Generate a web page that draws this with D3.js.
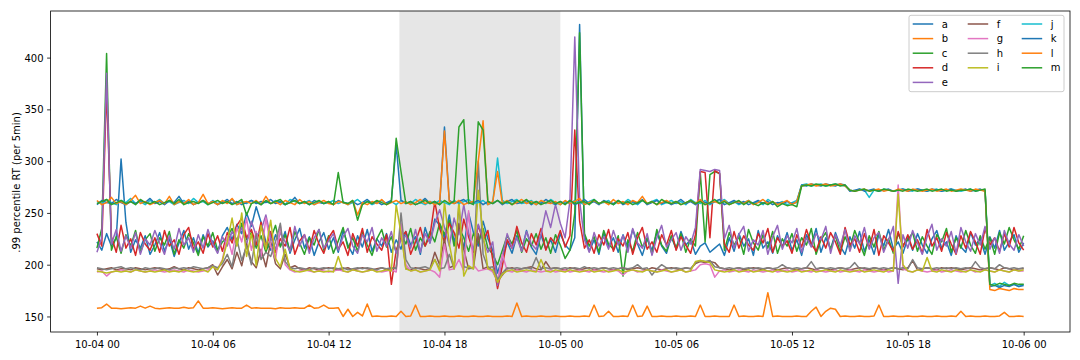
<!DOCTYPE html>
<html><head><meta charset="utf-8">
<script src="https://cdn.jsdelivr.net/npm/d3@7"></script>
<style>
html,body{margin:0;padding:0;background:#fff;}
svg{display:block;font-family:"DejaVu Sans",sans-serif;}
</style></head><body>
<svg id="chart" width="1080" height="360"></svg>
<script>
// ---- data (15-minute samples, 10-04 00:00 .. 10-06 00:00) ----
const startTime = Date.UTC(2023, 9, 4, 0, 0);
const stepMinutes = 15;
const shadeStart = Date.UTC(2023, 9, 4, 15, 40);
const shadeEnd = Date.UTC(2023, 9, 5, 0, 0);
const yTicks = [150, 200, 250, 300, 350, 400];
const seriesNames = ["a","b","c","d","e","f","g","h","i","j","k","l","m"];
const yLabel = ".99 percentile RT (per 5min)";

const a = [
222,214,230,218,226,302,241,212,224,216,228,210,
219,231,213,225,208,221,233,215,226,211,229,217,
223,212,228,236,224,239,230,250,237,256,241,222,
214,229,218,232,211,224,235,216,227,209,222,231,
215,226,212,233,219,210,228,217,234,213,225,218,
230,212,224,215,232,219,227,210,236,221,244,238,
226,248,222,239,215,250,231,218,242,225,214,192,
207,222,211,228,214,233,217,210,229,215,224,212,
230,219,214,226,432,228,213,224,210,231,217,226,
212,229,216,234,220,209,225,214,231,218,211,227,
215,232,219,224,210,218,221,212,216,220,209,226,
213,230,218,225,209,233,216,222,211,228,217,231,
214,224,209,229,219,235,212,226,215,231,218,210,
227,216,232,213,224,210,229,218,234,215,222,211,
226,214,230,219,211,225,233,216,222,209,228,217,
212,231,219,225,210,227,216,233,214,222,229,212,
221];
const b = [
158,158.5,162,158,158,157.5,158,158.5,158,160,158,160,
158,157.5,158,158.5,158,158,159,158,158.5,165,158,158,
158.5,158,157.5,158,158.5,158,158,161,158,158.5,158,158,
158,157.5,158.5,158,158,158.5,158,158,161,158,158.5,161,
158,158,158.5,150,157,150,154,150.5,162,150,150.5,150,
150,150.5,150,155,150,150.5,161,150,150,150.5,150,150,
150.5,150,150,150.5,150,150,150.5,150,150,150.5,150,150,
150,150.5,150,163,150,150.5,150,150,150.5,150,150,150.5,
150,150,150.5,150,150,150.5,150,161,150,150.5,155,150,
150,150.5,150,161,150,150.5,160,150,150,150.5,150,150,
150.5,150,150,150.5,150,161,150,150,150.5,150,150,150,
161,150,150.5,150,150,150.5,150,173,150,150.5,150,150,
150,150.5,150,150,155,159,150,155,158,157,150,150.5,
150,150,150.5,150,150,150.5,161,150,150,150.5,150,150,
150.5,150,150,150.5,150,150,150.5,150,150,150.5,150,155,
150,150.5,150,150,150.5,150,150,150.5,154,150,150,150.5,
150];
const c = [
216,235,404,214,227,211,229,218,233,212,224,230,
213,226,219,232,210,224,216,230,221,209,227,218,
231,214,222,227,235,219,240,224,231,216,228,212,
225,238,217,229,213,232,221,210,226,219,234,214,
228,211,223,236,216,226,213,231,219,209,225,234,
217,227,212,230,220,235,214,226,218,232,222,240,
229,243,218,236,226,213,230,221,235,216,210,200,
214,228,220,233,212,225,218,230,215,226,211,229,
219,206,214,250,424,230,218,227,212,233,220,215,
228,189,224,213,231,217,226,210,234,219,213,228,
216,230,212,225,218,289,222,287,290,288,214,231,
219,227,210,234,221,214,229,216,232,211,225,218,
230,213,226,219,235,210,224,231,215,228,212,227,
216,233,221,209,228,217,232,214,225,211,230,219,
224,231,213,227,218,210,229,222,235,212,226,216,
233,219,211,228,215,226,210,231,220,236,224,215,
228];
const d = [
230,218,370,227,212,238,216,225,209,231,220,214,
226,212,233,218,224,210,229,236,215,222,211,230,
217,228,213,231,221,238,245,226,234,219,241,216,
232,212,225,218,236,210,223,229,214,233,220,211,
226,233,215,222,209,230,218,235,212,227,220,214,
229,181,214,226,232,210,222,236,218,228,261,235,
222,240,231,216,244,227,212,238,223,233,205,177,
199,224,216,237,221,212,230,219,235,214,226,220,
233,217,228,330,242,216,224,211,229,219,234,213,
225,218,231,210,226,236,215,222,212,229,219,233,
214,227,219,211,229,290,289,226,291,288,220,212,
232,216,228,219,214,230,221,235,212,226,218,223,
211,229,217,234,220,213,227,216,231,222,210,236,
219,225,212,230,216,234,209,228,221,213,232,217,
229,215,224,211,234,218,226,213,231,220,210,228,
216,232,222,210,235,219,226,213,230,217,236,221,
214];
const e = [
212,226,385,220,234,213,228,216,231,210,225,219,
233,221,210,228,215,235,219,226,212,229,216,234,
220,211,227,218,232,224,236,219,242,228,233,248,
226,215,231,222,213,237,218,229,211,226,234,216,
223,230,214,227,235,218,211,229,222,236,213,226,
218,232,211,224,228,216,234,212,230,221,240,253,
236,218,245,229,258,231,214,239,224,212,222,180,
208,230,216,226,213,232,220,215,229,252,236,258,
240,226,262,420,262,224,212,231,218,227,215,233,
219,228,212,235,221,216,230,209,226,238,217,224,
231,214,227,220,236,292,291,290,292,291,225,238,
216,229,237,213,224,219,233,210,227,238,215,228,
221,235,212,226,217,230,224,237,211,229,218,234,
213,228,220,236,215,226,231,212,224,237,182,229,
216,233,221,210,227,239,214,225,218,232,211,236,
222,213,230,219,237,215,226,211,233,220,214,229,
218];
const f = [
196,195,196,197,195,196,196,195,197,196,195,196,
197,196,195,196,198,196,195,197,196,195,196,197,
200,190,198,205,196,212,199,220,203,197,215,198,
222,201,196,210,197,199,196,195,197,196,195,196,
197,196,195,196,197,195,196,197,196,195,196,197,
195,196,197,236,196,195,197,196,195,196,212,200,
225,197,199,240,215,196,197,230,196,198,194,184,
190,196,197,195,196,197,198,196,195,203,196,197,
196,195,197,196,195,196,197,195,196,197,196,195,
196,197,195,196,197,196,195,197,196,195,196,197,
196,195,197,196,201,203,202,203,202,197,196,195,
196,197,195,196,197,196,195,197,196,195,196,197,
196,195,196,197,196,195,197,196,195,196,197,196,
195,196,197,196,195,197,196,195,196,197,196,195,
197,204,195,196,197,196,195,197,196,197,196,195,
196,197,196,195,196,197,196,195,197,196,195,196,
196];
const g = [
193,194,189,193,194,195,194,193,195,194,193,194,
195,194,193,194,195,194,193,195,194,193,194,195,
199,196,205,228,210,236,222,245,214,232,207,245,
218,205,238,200,195,193,194,195,194,193,195,194,
193,194,195,194,193,195,194,193,194,195,194,193,
194,195,193,240,200,194,195,193,194,195,193,188,
220,195,196,205,194,252,200,194,195,196,193,184,
210,194,193,195,194,193,195,194,193,194,195,193,
194,195,193,194,195,194,193,195,194,193,194,195,
194,190,194,195,193,194,195,194,193,195,194,193,
194,195,193,194,195,200,201,200,188,194,195,193,
194,195,194,193,195,194,193,194,195,193,194,195,
193,194,195,194,193,195,194,193,194,195,193,194,
195,194,193,195,194,193,194,195,193,194,277,196,
194,193,195,194,193,194,195,193,194,195,194,193,
194,195,193,194,195,194,193,195,194,193,195,194,
194];
const h = [
197,196,195,196,197,198,196,197,196,195,197,196,
196,197,196,195,197,196,197,196,198,197,196,197,
199,197,201,210,198,225,204,218,200,230,205,212,
208,222,240,203,197,196,197,196,195,197,196,197,
196,197,196,197,195,196,197,196,197,196,195,197,
196,197,196,250,205,197,196,197,198,196,205,196,
197,210,196,258,198,197,196,300,210,197,198,186,
192,197,196,197,196,197,196,207,196,197,196,197,
196,197,196,197,196,198,196,197,196,197,196,197,
196,197,196,197,200,196,197,190,196,200,197,196,
197,196,197,196,202,204,203,204,198,197,196,197,
196,197,196,197,196,197,196,197,196,197,200,197,
196,197,196,197,203,196,197,196,197,196,197,196,
197,202,196,197,196,197,196,197,196,197,196,197,
196,205,197,196,197,196,197,196,197,196,197,196,
197,196,203,197,196,197,196,200,197,196,197,196,
197];
const i_ = [
194,193,192,193,194,193,194,193,195,194,193,194,
193,194,195,193,194,193,195,194,193,194,195,193,
198,195,204,222,245,218,250,208,230,199,238,215,
243,206,198,215,196,194,193,194,195,193,194,193,
194,193,208,194,193,195,194,193,194,195,193,194,
195,194,258,230,196,194,195,193,194,195,205,194,
261,220,196,262,189,199,196,272,230,196,195,183,
191,194,195,193,194,195,194,193,205,194,193,195,
194,193,195,194,193,194,195,193,194,195,193,194,
195,193,194,195,194,193,195,194,193,194,195,193,
194,195,193,194,203,204,203,202,195,194,193,194,
195,193,194,195,193,194,195,194,193,195,194,193,
194,195,193,194,195,193,194,195,194,193,195,194,
193,194,195,193,194,195,194,193,195,194,268,200,
194,193,195,194,207,194,193,195,194,193,195,194,
193,195,194,193,195,194,193,195,194,193,195,194,
195];
const j = [
261,259,263,260,258,262,260,264,259,261,258,262,
260,263,259,261,258,260,262,259,264,260,261,258,
262,259,261,260,263,258,261,259,262,260,258,261,
259,262,260,258,263,261,259,260,262,258,261,259,
260,262,259,261,258,260,263,259,261,258,260,262,
259,261,258,262,260,259,263,260,258,261,259,262,
260,258,262,259,261,263,259,260,262,258,260,303,
262,259,261,263,259,260,262,258,261,259,263,260,
258,261,259,262,260,258,261,263,259,260,262,258,
261,259,263,260,258,262,259,261,263,258,260,262,
259,261,258,263,260,259,262,258,261,260,263,259,
261,258,260,262,259,261,258,263,260,259,261,258,
260,262,277,278,276,277,278,276,277,278,277,276,
272,271,273,272,265,272,271,273,272,271,272,273,
272,271,273,272,271,272,273,271,272,273,272,271,
272,273,271,272,272,180,182,179,183,180,181,179,
181];
const k = [
258,262,260,259,263,260,258,261,259,262,260,264,
259,261,258,262,260,266,259,261,258,260,262,259,
261,258,260,263,259,261,258,260,262,259,261,260,
263,259,261,258,260,265,259,261,258,262,260,259,
261,258,262,260,259,261,258,260,263,259,261,258,
260,262,316,262,259,261,258,260,264,259,261,258,
333,262,259,261,263,259,260,262,258,261,259,262,
258,261,263,259,260,262,258,261,259,263,260,258,
261,259,262,258,260,263,259,261,258,262,260,259,
262,258,260,261,259,263,258,260,262,259,261,258,
260,263,259,261,258,262,260,259,261,263,258,260,
262,259,261,258,260,262,259,261,258,260,259,261,
259,260,277,276,278,277,276,278,277,276,278,277,
271,272,273,271,272,273,271,272,273,271,272,273,
271,272,273,272,271,273,272,271,272,273,271,272,
273,271,272,273,271,179,180,178,180,179,181,179,
180];
const l = [
262,258,260,265,259,261,258,262,267,259,261,258,
260,262,259,266,258,261,259,263,258,260,268,259,
261,258,262,259,264,258,260,261,259,262,258,266,
259,261,258,262,260,258,263,259,261,258,260,262,
259,258,261,260,258,262,248,260,258,261,259,263,
258,260,262,259,261,258,260,263,259,261,258,260,
329,261,259,262,258,260,261,300,339,258,261,290,
259,262,258,260,263,259,261,258,262,260,259,261,
258,262,259,261,264,258,260,262,259,261,258,263,
259,261,258,262,260,266,259,261,258,260,262,259,
261,258,260,262,259,263,258,260,261,259,262,258,
260,261,259,262,258,260,263,259,261,258,260,262,
258,261,276,277,278,276,277,278,276,277,278,276,
272,271,272,273,271,272,273,271,272,271,273,272,
271,273,272,271,272,273,271,272,273,271,272,273,
272,271,273,272,271,176,175,177,176,175,177,176,
176];
const m = [
259,261,263,258,260,262,259,261,258,263,260,259,
261,258,260,262,259,263,258,260,261,259,262,258,
260,262,259,261,258,260,263,248,259,261,258,262,
259,261,263,258,260,262,259,261,258,260,262,259,
261,258,289,260,259,262,243,258,261,259,262,260,
258,261,322,290,259,261,258,260,262,259,261,258,
262,259,261,333,340,260,258,338,330,261,259,262,
259,261,258,262,260,263,259,261,258,260,262,259,
261,258,262,259,260,261,258,263,259,261,260,258,
262,259,261,258,260,262,259,261,258,263,260,259,
261,258,260,262,259,261,258,260,263,259,261,258,
260,262,258,261,259,257,260,258,261,256,259,257,
258,256,276,277,276,278,277,276,277,278,276,277,
272,271,272,273,271,272,271,273,272,271,272,271,
273,272,271,272,273,271,272,273,271,272,271,272,
272,273,271,272,273,181,180,182,181,180,182,181,
181];

const seriesValues = [a,b,c,d,e,f,g,h,i_,j,k,l,m];
const colors = ["#1f77b4","#ff7f0e","#2ca02c","#d62728","#9467bd","#8c564b","#e377c2","#7f7f7f","#bcbd22","#17becf"];

// ---- layout ----
const svg = d3.select("#chart");
const L = 50.6, R = 1070, T = 11, B = 332;
const HOUR = 3600e3;
const endTime = startTime + 48 * HOUR;
const x = d3.scaleUtc().domain([startTime - 2.4*HOUR, endTime + 2.4*HOUR]).range([L, R]);
const y = d3.scaleLinear().domain([135, 445]).range([B, T]);

svg.append("defs").append("clipPath").attr("id","clip")
  .append("rect").attr("x",L).attr("y",T).attr("width",R-L).attr("height",B-T);

// shaded span
svg.append("rect")
  .attr("x", x(shadeStart)).attr("y", T)
  .attr("width", x(shadeEnd) - x(shadeStart)).attr("height", B - T)
  .attr("fill", "#808080").attr("fill-opacity", 0.2);

const line = d3.line()
  .x((v, idx) => x(startTime + idx * stepMinutes * 60e3))
  .y(v => y(v));

const gLines = svg.append("g").attr("clip-path","url(#clip)");
seriesValues.forEach((vals, si) => {
  gLines.append("path")
    .attr("d", line(vals))
    .attr("fill","none")
    .attr("stroke", colors[si % colors.length])
    .attr("stroke-width", 1.5)
    .attr("stroke-linejoin","round");
});

// axes
const xTicks = d3.utcHour.every(6).range(startTime, endTime + 1);
const xAxis = svg.append("g").attr("transform", `translate(0,${B})`)
  .call(d3.axisBottom(x).tickValues(xTicks).tickFormat(d3.utcFormat("%m-%d %H")).tickSize(3.5).tickSizeOuter(0));
xAxis.select(".domain").remove();
xAxis.selectAll("line").attr("stroke","#000").attr("stroke-width",0.8);
xAxis.selectAll("text").attr("y",16).attr("dy","0").attr("font-size",10)
  .attr("font-family","DejaVu Sans").attr("fill","#000");

const yAxis = svg.append("g").attr("transform", `translate(${L},0)`)
  .call(d3.axisLeft(y).tickValues(yTicks).tickSize(3.5).tickPadding(3.5).tickSizeOuter(0));
yAxis.select(".domain").remove();
yAxis.selectAll("line").attr("stroke","#000").attr("stroke-width",0.8);
yAxis.selectAll("text").attr("dy","0.36em").attr("font-size",10)
  .attr("font-family","DejaVu Sans").attr("fill","#000");

svg.append("text")
  .attr("transform", `translate(19.5,${(T+B)/2 + 11}) rotate(-90)`)
  .attr("text-anchor","middle").attr("font-size",10).attr("fill","#000")
  .text(yLabel);

// frame
svg.append("rect").attr("x",L).attr("y",T).attr("width",R-L).attr("height",B-T)
  .attr("fill","none").attr("stroke","#000").attr("stroke-width",0.8);

// legend
const lg = svg.append("g");
lg.append("rect").attr("x",909).attr("y",15.3).attr("width",155).attr("height",76.4)
  .attr("rx",2).attr("fill","#fff").attr("fill-opacity",0.8)
  .attr("stroke","#cccccc").attr("stroke-width",1);
const colX = [912.7, 967.7, 1021.7];
const rowY = [24, 38.6, 53.2, 67.8, 82.4];
const perCol = [5, 4, 4];
let idx = 0;
perCol.forEach((n, ci) => {
  for (let r = 0; r < n; r++, idx++) {
    const yy = rowY[r];
    lg.append("line").attr("x1", colX[ci]).attr("x2", colX[ci] + 20.5)
      .attr("y1", yy).attr("y2", yy)
      .attr("stroke", colors[idx % colors.length]).attr("stroke-width", 1.5);
    lg.append("text").attr("x", colX[ci] + 29).attr("y", yy).attr("dy","0.36em")
      .attr("font-size",10).attr("fill","#000").text(seriesNames[idx]);
  }
});
</script>
</body></html>
